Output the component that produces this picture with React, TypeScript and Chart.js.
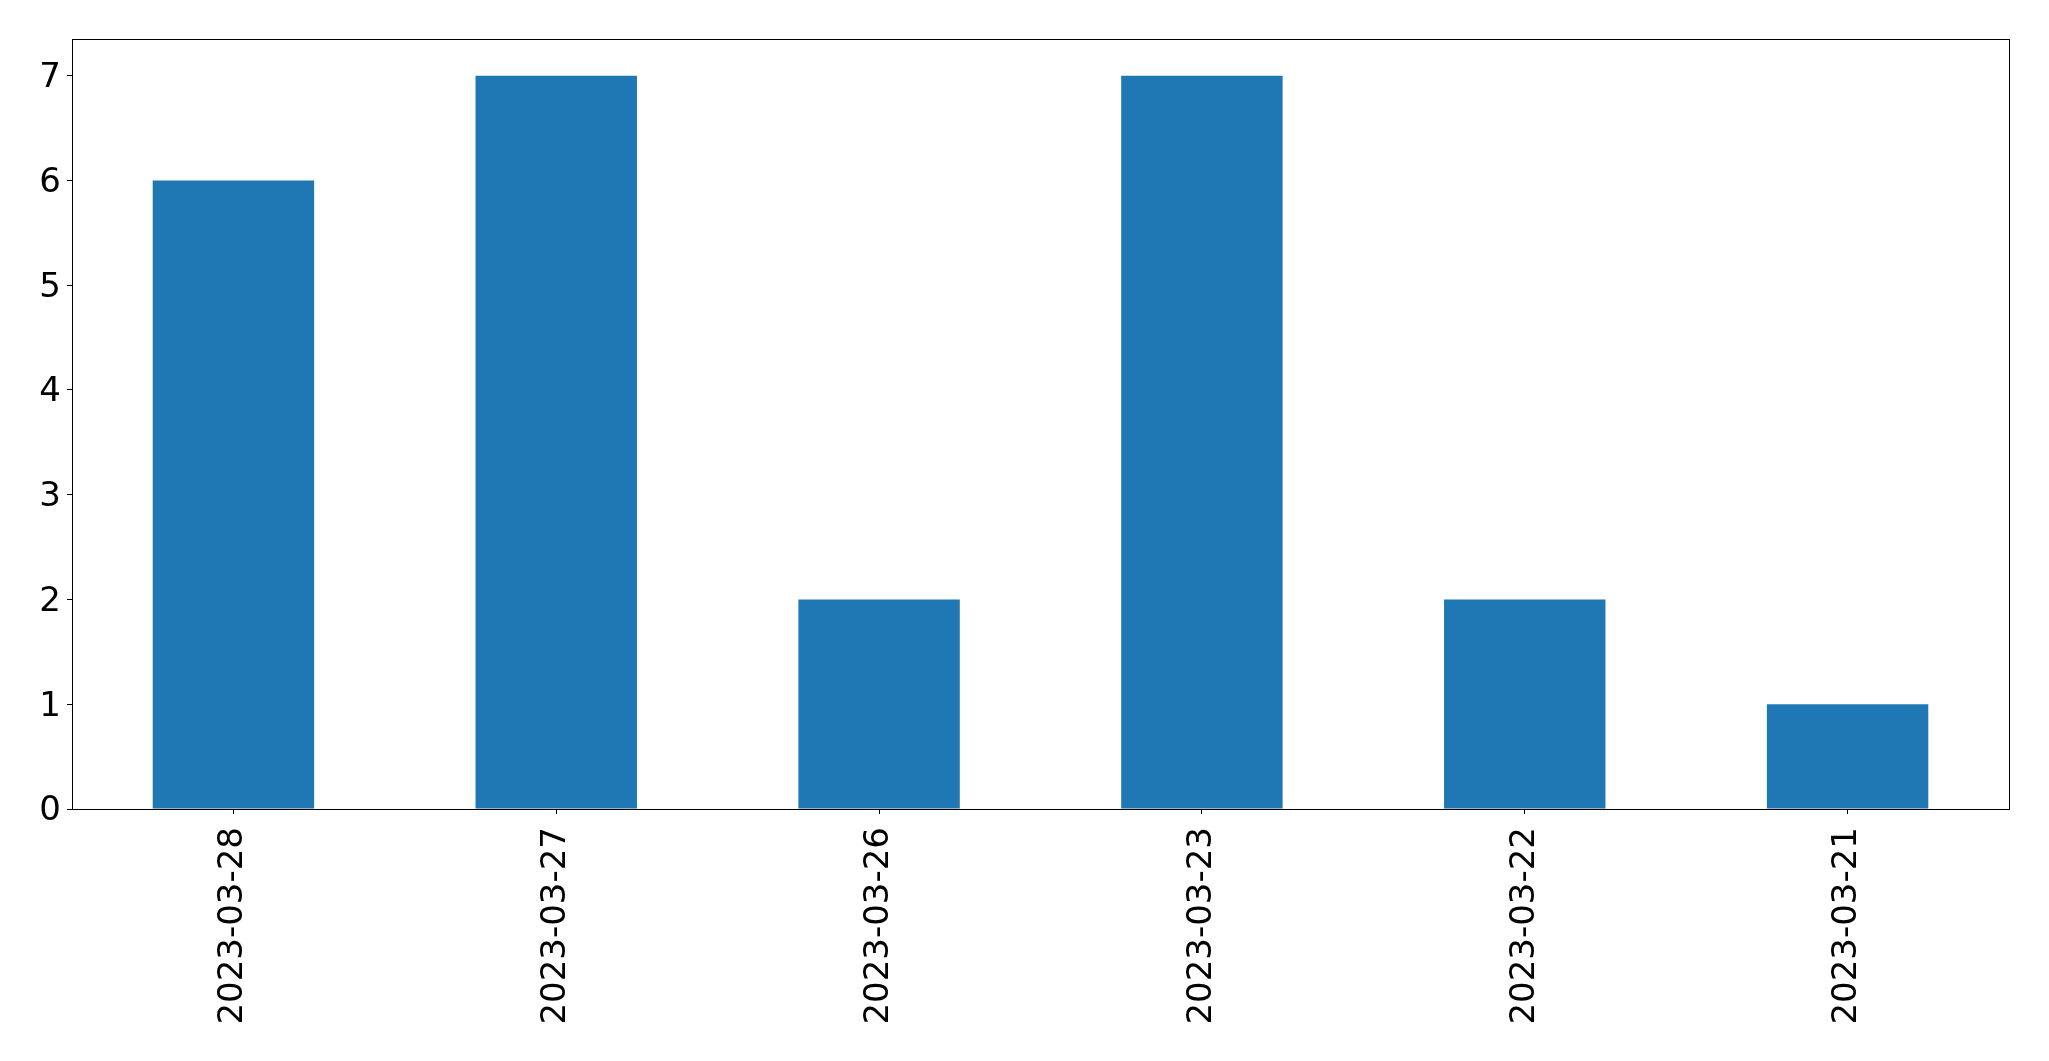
import React, { useEffect, useRef } from "react";
import { Chart, registerables } from "chart.js";

Chart.register(...registerables);

const categories = ["2023-03-28", "2023-03-27", "2023-03-26", "2023-03-23", "2023-03-22", "2023-03-21"];
const counts = [6, 7, 2, 7, 2, 1];
const yTicks = [0, 1, 2, 3, 4, 5, 6, 7];
const yMax = 7.35;

const frame = {
  id: "frame",
  afterDraw(chart: any) {
    const { ctx, chartArea } = chart;
    ctx.save();
    ctx.strokeStyle = "#000";
    ctx.lineWidth = 1;
    ctx.strokeRect(
      Math.round(chartArea.left) + 0.5,
      Math.round(chartArea.top) + 0.5,
      Math.round(chartArea.right - chartArea.left),
      Math.round(chartArea.bottom - chartArea.top)
    );
    ctx.restore();
  },
};

export default function App() {
  const ref = useRef<HTMLCanvasElement | null>(null);
  useEffect(() => {
    document.body.style.margin = "0";
    const c = ref.current!;
    const chart = new Chart(c, {
      type: "bar",
      data: {
        labels: categories,
        datasets: [
          {
            data: counts,
            backgroundColor: "#1f77b4",
            borderWidth: 0,
            categoryPercentage: 1,
            barPercentage: 0.5,
          },
        ],
      },
      options: {
        animation: false,
        responsive: false,
        maintainAspectRatio: false,
        layout: { padding: { left: 0, right: 40, top: 39, bottom: 0 } },
        plugins: { legend: { display: false }, tooltip: { enabled: false } },
        scales: {
          x: {
            offset: true,
            grid: { display: true, drawOnChartArea: false, drawTicks: true, tickLength: 5, color: "#000", offset: false },
            border: { display: true, color: "#000", width: 1 },
            ticks: {
              color: "#000",
              font: { family: "DejaVu Sans", size: 34 },
              minRotation: 90,
              maxRotation: 90,
              autoSkip: false,
              padding: 13,
            },
            afterFit(scale: any) {
              scale.height = 1061 - 809;
            },
          },
          y: {
            min: 0,
            max: yMax,
            grid: { display: true, drawOnChartArea: false, drawTicks: true, tickLength: 5, color: "#000" },
            border: { display: true, color: "#000", width: 1 },
            afterBuildTicks(scale: any) {
              scale.ticks = yTicks.map((v) => ({ value: v }));
            },
            ticks: {
              color: "#000",
              font: { family: "DejaVu Sans", size: 34, lineHeight: "5px" },
              padding: 6,
              includeBounds: false,
              callback: (v: any) => ["", String(v)],
            },
            afterFit(scale: any) {
              scale.width = 72;
            },
          },
        },
      },
      plugins: [frame],
    });
    return () => chart.destroy();
  }, []);
  return <canvas ref={ref} width={2049} height={1061} style={{ display: "block", width: 2049, height: 1061 }} />;
}
